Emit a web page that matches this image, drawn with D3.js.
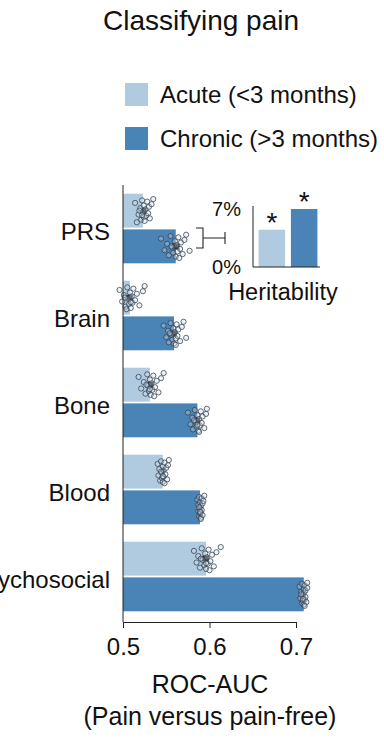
<!DOCTYPE html>
<html>
<head>
<meta charset="utf-8">
<script src="https://cdn.jsdelivr.net/npm/d3@7"></script>
<style>
  body { margin: 0; background: #fff; }
  svg text { font-family: "Liberation Sans", Arial, sans-serif; fill: #111; }
</style>
</head>
<body>
<div id="chart"></div>
<script>
// data
const categories = ['PRS', 'Brain', 'Bone', 'Blood', 'Psychosocial'];
const groups = ['acute', 'chronic'];
const groupLabels = ['Acute (<3 months)', 'Chronic (>3 months)'];
const acuteMeans = [0.523, 0.508, 0.531, 0.546, 0.596];
const chronicMeans = [0.561, 0.559, 0.586, 0.589, 0.709];

// individual runs per category (acute / chronic)
const acutePoints = [
  [0.514, 0.518, 0.520, 0.521, 0.522, 0.523, 0.524, 0.524, 0.525, 0.526, 0.527, 0.528, 0.529, 0.530, 0.531, 0.533, 0.519, 0.516, 0.535, 0.522],
  [0.496, 0.499, 0.501, 0.503, 0.505, 0.506, 0.507, 0.508, 0.509, 0.510, 0.511, 0.512, 0.514, 0.516, 0.519, 0.523, 0.502, 0.504, 0.525, 0.509],
  [0.518, 0.521, 0.524, 0.526, 0.528, 0.529, 0.530, 0.531, 0.532, 0.533, 0.534, 0.535, 0.537, 0.539, 0.541, 0.544, 0.527, 0.536, 0.547, 0.531],
  [0.540, 0.541, 0.542, 0.543, 0.544, 0.545, 0.545, 0.546, 0.546, 0.547, 0.547, 0.548, 0.549, 0.550, 0.551, 0.552, 0.544, 0.548, 0.553, 0.546],
  [0.582, 0.585, 0.587, 0.589, 0.591, 0.592, 0.594, 0.595, 0.596, 0.597, 0.598, 0.599, 0.601, 0.603, 0.605, 0.608, 0.590, 0.600, 0.613, 0.596]
];
const chronicPoints = [
  [0.544, 0.548, 0.551, 0.553, 0.555, 0.557, 0.558, 0.560, 0.561, 0.562, 0.563, 0.564, 0.566, 0.567, 0.569, 0.571, 0.556, 0.565, 0.573, 0.577],
  [0.547, 0.550, 0.552, 0.553, 0.555, 0.556, 0.557, 0.558, 0.559, 0.560, 0.561, 0.562, 0.563, 0.564, 0.566, 0.568, 0.554, 0.561, 0.570, 0.573],
  [0.575, 0.578, 0.580, 0.581, 0.583, 0.584, 0.585, 0.586, 0.587, 0.588, 0.589, 0.590, 0.591, 0.592, 0.594, 0.596, 0.582, 0.588, 0.597, 0.586],
  [0.586, 0.587, 0.587, 0.588, 0.588, 0.589, 0.589, 0.589, 0.590, 0.590, 0.590, 0.591, 0.591, 0.592, 0.592, 0.593, 0.588, 0.590, 0.594, 0.589],
  [0.704, 0.705, 0.706, 0.707, 0.707, 0.708, 0.708, 0.709, 0.709, 0.709, 0.710, 0.710, 0.711, 0.711, 0.712, 0.713, 0.706, 0.710, 0.713, 0.708]
];

const xTicks = [0.5, 0.6, 0.7];

// inset: SNP heritability
const heritability = [4.5, 7.0];
const heritTicks = [0, 7];

// fixed vertical spread of the dots within a bar (layout only)
const spread = [-0.6, 0.3, -0.2, 0.7, -0.8, 0.1, 0.5, -0.4, 0.8, -0.1, 0.4, -0.7, 0.2, -0.3, 0.6, -0.5, 0.0, 0.9, -0.9, 0.35];

const colors = {acute: '#b0cbe0', chronic: '#4a83b5'};

const width = 384, height = 744;
const svg = d3.select('#chart').append('svg').attr('width', width).attr('height', height);

// title
svg.append('text').attr('x', 201).attr('y', 30).attr('text-anchor', 'middle')
  .style('font-size', '28px').text('Classifying pain');

// legend
const legend = svg.append('g');
groups.forEach((g, i) => {
  const y = 83 + i * 44;
  legend.append('rect').attr('x', 125).attr('y', y).attr('width', 23).attr('height', 23).attr('fill', colors[g]);
  legend.append('text').attr('x', 160).attr('y', y + 20).style('font-size', '24px').text(groupLabels[i]);
});

const x = d3.scaleLinear().domain([0.5, 0.7]).range([123, 296]);
const y = d3.scaleBand().domain(categories).range([185, 620]).paddingInner(0.2).paddingOuter(0.1);
const ySub = d3.scaleBand().domain(groups).range([0, y.bandwidth()]).paddingInner(0.05);

const rows = categories.map((c, i) => ({
  cat: c,
  vals: [
    {g: 'acute', mean: acuteMeans[i], pts: acutePoints[i]},
    {g: 'chronic', mean: chronicMeans[i], pts: chronicPoints[i]}
  ]
}));

const rowG = svg.selectAll('.row').data(rows).enter().append('g')
  .attr('class', 'row').attr('transform', d => `translate(0,${y(d.cat)})`);

const bar = rowG.selectAll('.bar').data(d => d.vals).enter().append('g').attr('class', 'bar');

bar.append('rect')
  .attr('x', x(0.5))
  .attr('y', d => ySub(d.g))
  .attr('width', d => x(d.mean) - x(0.5))
  .attr('height', ySub.bandwidth())
  .attr('fill', d => colors[d.g]);

// mean box behind the dots
bar.append('rect')
  .attr('x', d => x(d3.quantile(d.pts.slice().sort(d3.ascending), 0.3)))
  .attr('y', d => ySub(d.g) + ySub.bandwidth() / 2 - 3)
  .attr('width', d => {
    const s = d.pts.slice().sort(d3.ascending);
    return x(d3.quantile(s, 0.7)) - x(d3.quantile(s, 0.3));
  })
  .attr('height', 6)
  .attr('fill', '#2a2f36');

bar.selectAll('circle').data(d => d.pts.map((v, j) => ({v, g: d.g, j}))).enter().append('circle')
  .attr('cx', d => x(d.v))
  .attr('cy', d => ySub(d.g) + ySub.bandwidth() / 2 + spread[d.j] * ySub.bandwidth() * 0.38)
  .attr('r', 2.6)
  .attr('fill', 'rgba(205,220,232,0.35)')
  .attr('stroke', '#33414f')
  .attr('stroke-opacity', 0.85)
  .attr('stroke-width', 0.9);

// category labels
rowG.append('text')
  .attr('x', 110)
  .attr('y', y.bandwidth() / 2 + 12)
  .attr('text-anchor', 'end')
  .style('font-size', '24px')
  .text(d => d.cat);

// axes
svg.append('line').attr('x1', x(0.5)).attr('x2', x(0.5)).attr('y1', 185).attr('y2', 622)
  .attr('stroke', '#222').attr('stroke-width', 1);

const xAxis = svg.append('g').attr('transform', 'translate(0,622)')
  .call(d3.axisBottom(x).tickValues(xTicks).tickFormat(d3.format('.1f')).tickSize(6).tickSizeOuter(0));
xAxis.select('.domain').attr('stroke', '#222');
xAxis.selectAll('.tick line').attr('stroke', '#222');
xAxis.selectAll('.tick text').style('font-size', '24px').attr('y', 33).attr('dy', null)
  .style('font-family', '"Liberation Sans", Arial, sans-serif').attr('fill', '#111');

svg.append('text').attr('x', 210).attr('y', 693).attr('text-anchor', 'middle')
  .style('font-size', '25px').text('ROC-AUC');
svg.append('text').attr('x', 210).attr('y', 725).attr('text-anchor', 'middle')
  .style('font-size', '25px').text('(Pain versus pain-free)');

// inset
const hx = d3.scaleBand().domain(groups).range([256, 320]).paddingInner(0.18).paddingOuter(0.08);
const hy = d3.scaleLinear().domain([0, 7]).range([267, 209]);

const inset = svg.append('g');
inset.selectAll('rect').data(groups.map((g, i) => ({g, v: heritability[i]}))).enter().append('rect')
  .attr('x', d => hx(d.g))
  .attr('y', d => hy(d.v))
  .attr('width', hx.bandwidth())
  .attr('height', d => hy(0) - hy(d.v))
  .attr('fill', d => colors[d.g]);

inset.selectAll('.star').data(groups.map((g, i) => ({g, v: heritability[i]}))).enter().append('text')
  .attr('x', d => hx(d.g) + hx.bandwidth() / 2)
  .attr('y', d => hy(d.v) + 2)
  .attr('text-anchor', 'middle')
  .style('font-size', '28px')
  .text('*');

inset.append('path')
  .attr('d', `M253,${hy(7) - 3}V${hy(0)}H320`)
  .attr('fill', 'none').attr('stroke', '#222').attr('stroke-width', 1);

inset.selectAll('.htick').data(heritTicks).enter().append('text')
  .attr('x', 241).attr('y', d => hy(d) + 7)
  .attr('text-anchor', 'end')
  .style('font-size', '20px')
  .text(d => d + '%');

inset.append('text').attr('x', 283).attr('y', 300).attr('text-anchor', 'middle')
  .style('font-size', '23.5px').text('Heritability');

// bracket linking PRS bars to inset
inset.append('path')
  .attr('d', 'M196,228H203V248H196M203,238H225M225,232V244')
  .attr('fill', 'none').attr('stroke', '#222').attr('stroke-width', 1.1);
</script>
</body>
</html>
